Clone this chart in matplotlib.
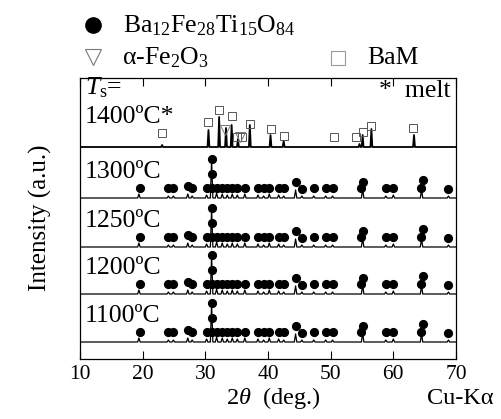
import numpy as np
import matplotlib
matplotlib.use("Agg")
import matplotlib.pyplot as plt
from matplotlib.lines import Line2D

plt.rcParams['font.family'] = ['Liberation Serif', 'DejaVu Serif']
plt.rcParams['mathtext.fontset'] = 'custom'
plt.rcParams['mathtext.rm'] = 'Liberation Serif'
plt.rcParams['mathtext.it'] = 'Liberation Serif:italic'

# sintering temperatures and vertical offsets of each pattern (a.u.)
temps = ['1100ºC', '1200ºC', '1250ºC', '1300ºC']
offsets = [17, 65, 112, 161]
offset_1400 = 212

# Ba12Fe28Ti15O84 pattern: peak position (2theta) and height
peak_pos = [19.4, 24.1, 24.9, 27.2, 27.9, 30.2, 31.0, 31.8, 32.7, 33.5, 34.3,
            35.1, 36.3, 38.4, 39.3, 40.2, 41.7, 42.5, 44.4, 45.4, 47.3, 49.2,
            50.3, 55.1, 58.8, 60.0, 64.5, 68.8]
peak_h = [4, 2, 2, 4, 2, 3, 38, 5, 4, 3, 4,
          3, 4, 3, 2, 4, 3, 2, 8, 2, 2, 2,
          2, 9, 2, 3, 8, 2]

# Ba12Fe28Ti15O84 reflection markers: position and height above baseline
dot_pos = [19.6, 24.1, 24.9, 27.2, 27.9, 30.2, 31.0, 31.0, 31.0, 31.8, 32.7,
           33.5, 34.3, 35.1, 36.3, 38.4, 39.3, 40.2, 41.7, 42.5, 44.4, 45.4,
           47.3, 49.2, 50.3, 54.9, 55.2, 58.8, 60.0, 64.4, 64.7, 68.8]
dot_lvl = [10, 10, 10, 12, 10, 10, 10, 24, 39, 10, 10,
           10, 10, 10, 10, 10, 10, 10, 10, 10, 16, 9,
           10, 10, 10, 10, 16, 10, 10, 10, 18, 9]

# 1400 C (melted) pattern
p14_pos = [23.1, 30.5, 32.2, 33.3, 34.2, 35.2, 37.1, 40.4, 42.5, 54.6, 55.1, 56.5, 63.3]
p14_h = [2, 17, 30, 19, 22, 8, 22, 12, 6, 3, 12, 18, 12]

# BaM markers
bam_pos = [23.1, 30.5, 32.2, 34.2, 35.1, 35.9, 37.2, 40.5, 42.5, 50.5, 54.0, 55.1, 56.5, 63.2]
bam_lvl = [14, 25, 37, 31, 10, 10, 23, 18, 11, 10, 10, 15, 21, 19]

# alpha-Fe2O3 markers
fe_pos = [33.2, 35.6]
fe_lvl = [17, 10]


def trace(pos, h, w=0.2):
    x = [10]
    y = [0]
    for p, hh in sorted(zip(pos, h)):
        x += [p - w, p, p + w]
        y += [0, hh, 0]
    x.append(70)
    y.append(0)
    return np.array(x), np.array(y)


fig = plt.figure(figsize=(5.01, 4.19), dpi=100)
ax = fig.add_axes([80 / 501, 1 - 359 / 419, 376 / 501, 281 / 419])

tx, ty = trace(peak_pos, peak_h)
for t, off in zip(temps, offsets):
    ax.plot(tx, ty + off, color='black', lw=0.9)
    ax.plot(dot_pos, np.array(dot_lvl) + off, 'o', color='black', ms=5.6)
    ax.text(10.8, off + 26, t, fontsize=18.5, va='center', ha='left')

tx14, ty14 = trace(p14_pos, p14_h, w=0.15)
ax.plot(tx14, ty14 + offset_1400, color='black', lw=1.3)
ax.plot(bam_pos, np.array(bam_lvl) + offset_1400, 's', mfc='none',
        mec='#555555', mew=0.7, ms=6.2)
ax.plot(fe_pos, np.array(fe_lvl) + offset_1400, 'v', mfc='none',
        mec='#777777', mew=0.7, ms=6.5)

ax.text(10.8, 271, r'$T_{\rm s}$=', fontsize=18.5, va='center', ha='left')
ax.text(10.8, 242, '1400ºC*', fontsize=18.5, va='center', ha='left')
ax.text(69.2, 268, '*  melt', fontsize=18.5, va='center', ha='right')

ax.set_xlim(10, 70)
ax.set_ylim(0, 281)
ax.set_xticks([10, 20, 30, 40, 50, 60, 70])
ax.set_yticks([])
ax.tick_params(axis='x', direction='in', top=True, length=6, width=0.8,
               labelsize=15.5, pad=4)
for s in ax.spines.values():
    s.set_linewidth(0.9)

fig.text(40 / 501, 1 - 218 / 419, 'Intensity (a.u.)', rotation=90,
         fontsize=18, ha='center', va='center')
fig.text(273 / 501, 1 - 398 / 419, r'2$\theta$  (deg.)', fontsize=17.5,
         ha='center', va='center')
fig.text(494 / 501, 1 - 398 / 419, 'Cu-Kα', fontsize=17.5,
         ha='right', va='center')

# legend drawn above the axes
fig.add_artist(Line2D([93 / 501], [1 - 25 / 419], marker='o', color='black',
                      ms=11, transform=fig.transFigure))
fig.text(123 / 501, 1 - 26 / 419, r'Ba$_{12}$Fe$_{28}$Ti$_{15}$O$_{84}$',
         fontsize=18.5, ha='left', va='center')
fig.add_artist(Line2D([93 / 501], [1 - 57 / 419], marker='v', mfc='none',
                      mec='#777777', mew=0.8, ms=11, transform=fig.transFigure))
fig.text(122 / 501, 1 - 58 / 419, r'α-Fe$_2$O$_3$', fontsize=18.5,
         ha='left', va='center')
fig.add_artist(Line2D([338 / 501], [1 - 58 / 419], marker='s', mfc='none',
                      mec='#999999', mew=0.8, ms=10, transform=fig.transFigure))
fig.text(367 / 501, 1 - 58 / 419, 'BaM', fontsize=18.5, ha='left', va='center')

fig.savefig('out.png', dpi=100)
